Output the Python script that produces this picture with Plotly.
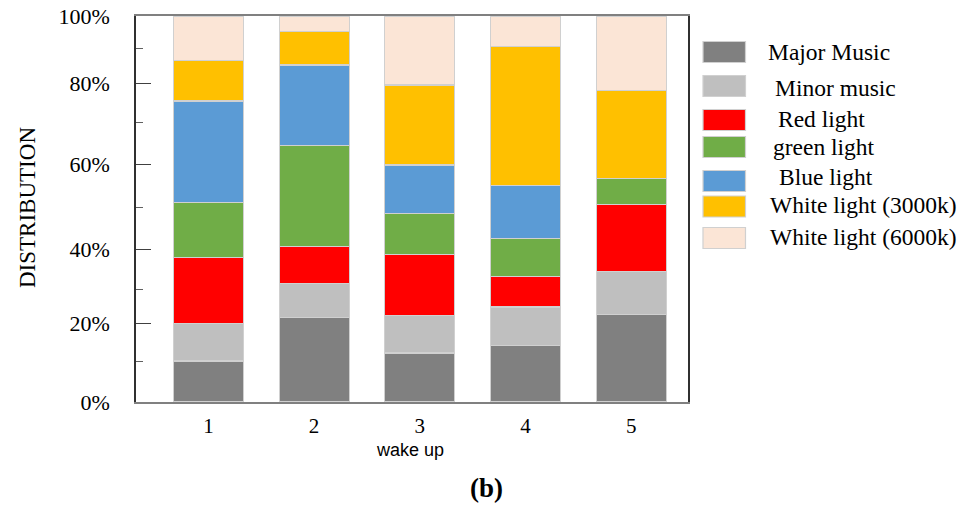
import plotly.graph_objects as go

# ---------------- data ----------------
wake_up = [1, 2, 3, 4, 5]
series_names = ["Major Music", "Minor music", "Red light", "green light",
                "Blue light", "White light (3000k)", "White light (6000k)"]
major_music = [10.6, 21.8, 12.7, 14.7, 22.7]
minor_music = [9.7, 9.0, 9.8, 9.9, 11.2]
red_light = [17.1, 9.4, 15.7, 8.0, 17.3]
green_light = [14.3, 26.3, 10.6, 9.7, 6.7]
blue_light = [26.3, 20.8, 12.6, 13.7, 0.0]
white_3000k = [10.5, 8.7, 20.7, 36.0, 22.7]
white_6000k = [11.5, 4.0, 17.9, 8.0, 19.4]

y_tick_vals = [0, 20.3, 39.6, 61.5, 82.5, 100]
y_tick_text = ["0%", "20%", "40%", "60%", "80%", "100%"]
y_minor_vals = [10.5, 29.2, 50.4, 72.5, 91.7]

# ---------------- style ----------------
colors = ["#808080", "#bfbfbf", "#ff0000", "#70ad47", "#5b9bd5", "#ffc000", "#fbe5d6"]
series_values = [major_music, minor_music, red_light, green_light,
                 blue_light, white_3000k, white_6000k]

SERIF = "Liberation Serif, Times New Roman, serif"
SANS = "Liberation Sans, Arial, sans-serif"

# page offset (browser body margin) and figure size
OFF = 8
FIG_W, FIG_H = 976 - OFF, 506 - OFF

# plot area in reference-picture pixels
L, R, T, B = 136, 688, 16, 402
W, H = R - L, B - T


def px(x):
    return (x - L) / W


def py(y):
    return (B - y) / H


fig = go.Figure()
for name, vals, col in zip(series_names, series_values, colors):
    fig.add_trace(go.Bar(
        x=wake_up, y=vals, name=name,
        marker=dict(color=col, line=dict(color="#d0d0d0", width=1.2)),
        showlegend=False,
    ))

# custom legend (large swatches like the reference)
legend_rows_y = [52, 86, 120, 147, 181, 206.5, 238]
legend_text_x = [766, 773, 776, 771, 777, 768, 768]
legend_text_y = [51.7, 88, 119, 147, 176.7, 205, 236.7]
shapes = []
annotations = []
for i, (name, col) in enumerate(zip(series_names, colors)):
    yc = legend_rows_y[i]
    shapes.append(dict(
        type="rect", xref="paper", yref="paper",
        x0=px(703), x1=px(745.5), y0=py(yc + 10.5), y1=py(yc - 10.5),
        fillcolor=col, line=dict(color="#d0d0d0", width=1.2),
    ))
    annotations.append(dict(
        text=name, xref="paper", yref="paper",
        x=px(legend_text_x[i]), y=py(legend_text_y[i]),
        xanchor="left", yanchor="middle", showarrow=False,
        font=dict(family=SERIF, size=23.5, color="black"),
    ))

annotations.append(dict(
    text="DISTRIBUTION", xref="paper", yref="paper",
    x=px(27), y=py(208), xanchor="center", yanchor="middle",
    textangle=-90, showarrow=False,
    font=dict(family=SERIF, size=23, color="black"),
))
annotations.append(dict(
    text="wake up", xref="paper", yref="paper",
    x=px(410), y=py(450), xanchor="center", yanchor="middle",
    showarrow=False, font=dict(family=SANS, size=18, color="black"),
))
annotations.append(dict(
    text="<b>(b)</b>", xref="paper", yref="paper",
    x=px(486), y=py(488), xanchor="center", yanchor="middle",
    showarrow=False, font=dict(family=SERIF, size=27, color="black"),
))

fig.update_layout(
    width=FIG_W, height=FIG_H,
    margin=dict(l=L - OFF, r=FIG_W - (R - OFF), t=T - OFF, b=FIG_H - (B - OFF), pad=0),
    barmode="stack", bargap=0.338,
    plot_bgcolor="white", paper_bgcolor="white",
    shapes=shapes, annotations=annotations,
    xaxis=dict(
        range=[0.315, 5.537], tickmode="array", tickvals=wake_up,
        ticktext=[str(v) for v in wake_up], automargin=False,
        showline=True, linecolor="#808080", linewidth=1.5, mirror=True,
        ticks="", showgrid=False, zeroline=False,
        tickfont=dict(family=SERIF, size=21, color="black"),
        ticklabelstandoff=4, ticklabeloverflow="allow",
    ),
    yaxis=dict(
        range=[0, 100], tickmode="array", tickvals=y_tick_vals,
        ticktext=y_tick_text, automargin=False,
        ticks="inside", ticklen=15, tickwidth=1.3, tickcolor="#404040",
        minor=dict(tickmode="array", tickvals=y_minor_vals, ticks="inside",
                   ticklen=7, tickwidth=1.3, tickcolor="#606060", showgrid=False),
        showline=True, linecolor="#303030", linewidth=1.5, mirror=True,
        showgrid=False, zeroline=False,
        tickfont=dict(family=SERIF, size=22, color="black"),
        ticklabelstandoff=20, ticklabeloverflow="allow",
    ),
)

fig.write_html("out.html")
